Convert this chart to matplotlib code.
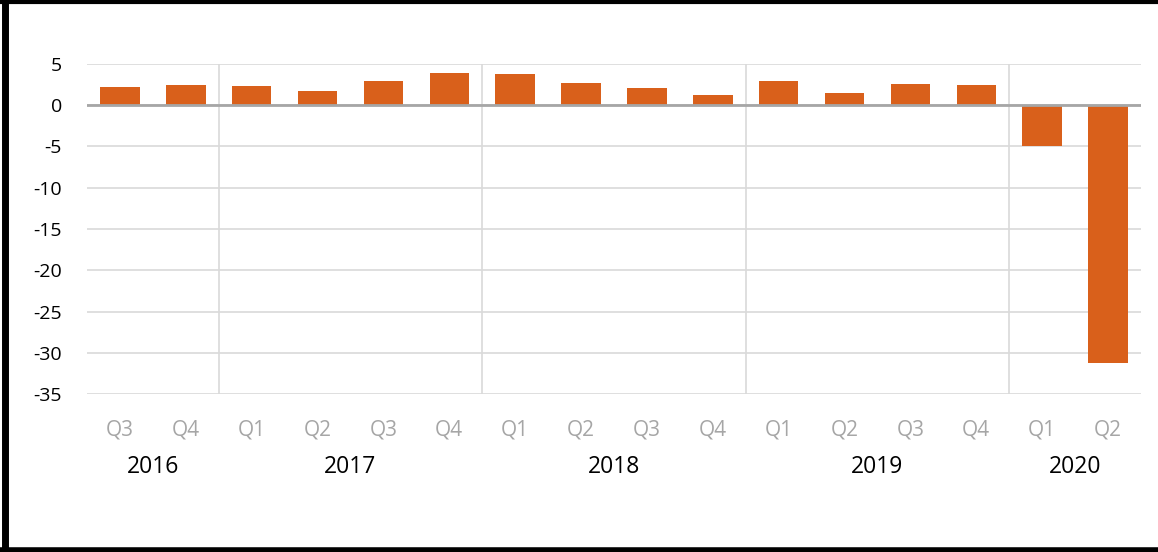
import matplotlib.pyplot as plt
from matplotlib.lines import Line2D

quarters = ["Q3", "Q4", "Q1", "Q2", "Q3", "Q4", "Q1", "Q2",
            "Q3", "Q4", "Q1", "Q2", "Q3", "Q4", "Q1", "Q2"]
values = [2.2, 2.5, 2.35, 1.7, 2.9, 3.9, 3.8, 2.7,
          2.1, 1.3, 2.9, 1.5, 2.6, 2.4, -5.0, -31.3]
years = ["2016", "2017", "2018", "2019", "2020"]
year_spans = [(0, 1), (2, 5), (6, 9), (10, 13), (14, 15)]

plt.rcParams["font.family"] = ["Open Sans", "DejaVu Sans"]
plt.rcParams["axes.unicode_minus"] = False

fig = plt.figure(figsize=(11.58, 5.52), dpi=100)
ax = fig.add_axes([0.0751, 0.2862, 0.9102, 0.5979])

x = list(range(len(values)))
ax.bar(x, values, width=0.6, color="#D9601B", zorder=3)

ax.set_xlim(-0.5, len(values) - 0.5)
ax.set_ylim(-35, 5)
ax.set_yticks(range(-35, 6, 5))
ax.yaxis.grid(True, color="#D9D9D9", linewidth=1.2, zorder=0)
ax.axhline(0, color="#A6A6A6", linewidth=2, zorder=4)

# year separators
for start, end in year_spans[:-1]:
    ax.axvline(end + 0.5, color="#D9D9D9", linewidth=1.2, zorder=0)

for s in ax.spines.values():
    s.set_visible(False)

ax.set_xticks(x)
ax.set_xticklabels(quarters, fontsize=15, color="#A6A6A6")
ax.tick_params(axis="x", length=0, pad=18)
ax.tick_params(axis="y", length=0, pad=18, labelsize=14)

for yr, (start, end) in zip(years, year_spans):
    ax.text((start + end) / 2, -0.22, yr, transform=ax.get_xaxis_transform(),
            ha="center", va="center", fontsize=16.5, color="black")

# black frame (top, left, bottom)
fig.add_artist(Line2D([0, 1], [0.9964, 0.9964], color="black", linewidth=3))
fig.add_artist(Line2D([0.0043, 0.0043], [0, 1], color="black", linewidth=5))
fig.add_artist(Line2D([0, 1], [0.0045, 0.0045], color="black", linewidth=4))

fig.savefig("out.png", dpi=100)
